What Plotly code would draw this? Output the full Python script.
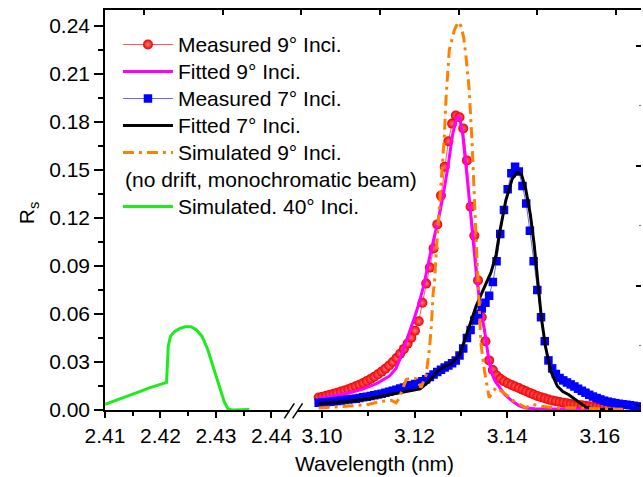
import plotly.graph_objects as go

# ---------------- data ----------------
meas_x = [3.0993, 3.1001, 3.1009, 3.1017, 3.1025, 3.1033, 3.1041, 3.1049, 3.1057, 3.1065,
          3.1073, 3.1081, 3.1089, 3.1097, 3.1105, 3.1113, 3.1121, 3.1129, 3.1137, 3.1145,
          3.1153, 3.1161, 3.1169, 3.1177, 3.1185, 3.1193, 3.1201, 3.1209, 3.1217, 3.1225,
          3.1233, 3.1241, 3.1249, 3.1257, 3.1265, 3.1273, 3.1281, 3.1289, 3.1297, 3.1305,
          3.1313, 3.1321, 3.1329, 3.1337, 3.1345, 3.1353, 3.1361, 3.1369, 3.1377, 3.1385,
          3.1393, 3.1401, 3.1409, 3.1417, 3.1425, 3.1433, 3.1441, 3.1449, 3.1457, 3.1465,
          3.1473, 3.1481, 3.1489, 3.1497, 3.1505, 3.1513, 3.1521, 3.1529, 3.1537, 3.1545,
          3.1553, 3.1561, 3.1569, 3.1577, 3.1585, 3.1593, 3.1601, 3.1609, 3.1617, 3.1625,
          3.1633, 3.1641, 3.1649, 3.1657, 3.1665, 3.1673, 3.1681, 3.1689]

meas9_y = [0.0078, 0.0083, 0.0089, 0.0095, 0.0101, 0.0108, 0.0115, 0.0122, 0.0130, 0.0139,
           0.0148, 0.0158, 0.0169, 0.0181, 0.0194, 0.0208, 0.0223, 0.0240, 0.0258, 0.0278,
           0.0300, 0.0325, 0.0352, 0.0382, 0.0415, 0.0452, 0.0495, 0.0555, 0.0670, 0.0790,
           0.0890, 0.1010, 0.1160, 0.1340, 0.1520, 0.1680, 0.1790, 0.1840, 0.1830, 0.1760,
           0.1560, 0.1270, 0.1090, 0.0810, 0.0580, 0.0430, 0.0310, 0.0250, 0.0215, 0.0195,
           0.0180, 0.0168, 0.0157, 0.0147, 0.0137, 0.0127, 0.0117, 0.0107, 0.0097, 0.0088,
           0.0080, 0.0073, 0.0066, 0.0060, 0.0055, 0.0050, 0.0046, 0.0042, 0.0038, 0.0035,
           0.0032, 0.0029, 0.0026, 0.0024, 0.0022, 0.0020, 0.0018, 0.0016, 0.0014, 0.0012,
           0.0010, 0.0008]

meas7_y = [0.0045, 0.0047, 0.0049, 0.0051, 0.0053, 0.0056, 0.0059, 0.0062, 0.0065, 0.0068,
           0.0071, 0.0075, 0.0079, 0.0083, 0.0087, 0.0092, 0.0097, 0.0102, 0.0108, 0.0114,
           0.0120, 0.0127, 0.0134, 0.0141, 0.0148, 0.0155, 0.0163, 0.0171, 0.0180, 0.0192,
           0.0206, 0.0222, 0.0238, 0.0252, 0.0265, 0.0278, 0.0292, 0.0310, 0.0340, 0.0385,
           0.0450, 0.0500, 0.0560, 0.0600, 0.0635, 0.0670, 0.0714, 0.0800, 0.0930, 0.1100,
           0.1250, 0.1380, 0.1480, 0.1520, 0.1490, 0.1400, 0.1290, 0.1120, 0.0930, 0.0750,
           0.0580, 0.0430, 0.0310, 0.0260, 0.0225, 0.0200, 0.0185, 0.0172, 0.0160, 0.0147,
           0.0133, 0.0120, 0.0108, 0.0095, 0.0084, 0.0075, 0.0066, 0.0058, 0.0052, 0.0047,
           0.0043, 0.0039, 0.0036, 0.0033, 0.0030, 0.0026, 0.0022, 0.0019]

fit9_x = [3.0993, 3.1030, 3.1060, 3.1090, 3.1120, 3.1146, 3.1160, 3.1170, 3.1180, 3.1190,
          3.1200, 3.1210, 3.1220, 3.1232, 3.1244, 3.1254, 3.1264, 3.1272, 3.1282, 3.1291,
          3.1297, 3.1304, 3.1315, 3.1325, 3.1334, 3.1342, 3.1351, 3.1358, 3.1365, 3.1374,
          3.1383, 3.1395, 3.1411, 3.1426, 3.1440, 3.1460, 3.1500, 3.1550, 3.1600, 3.1650]
fit9_y = [0.0072, 0.0090, 0.0108, 0.0132, 0.0168, 0.0213, 0.0260, 0.0330, 0.0410, 0.0495,
          0.0580, 0.0670, 0.0780, 0.0950, 0.1100, 0.1226, 0.1380, 0.1518, 0.1720, 0.1830,
          0.1830, 0.1720, 0.1410, 0.1100, 0.0830, 0.0640, 0.0500, 0.0360, 0.0244, 0.0180,
          0.0140, 0.0095, 0.0056, 0.0025, 0.0012, 0.0008, 0.0007, 0.0006, 0.0004, 0.0003]

fit7_x = [3.0993, 3.1050, 3.1100, 3.1132, 3.1180, 3.1212, 3.1230, 3.1248, 3.1265, 3.1280,
          3.1298, 3.1308, 3.1319, 3.1333, 3.1345, 3.1365, 3.1376, 3.1383, 3.1397, 3.1411,
          3.1422, 3.1431, 3.1440, 3.1450, 3.1458, 3.1466, 3.1474, 3.1483, 3.1494, 3.1508,
          3.1520, 3.1533, 3.1551, 3.1569, 3.1590, 3.1630]
fit7_y = [0.0040, 0.0052, 0.0070, 0.0088, 0.0115, 0.0132, 0.0175, 0.0240, 0.0272, 0.0290,
          0.0350, 0.0440, 0.0537, 0.0650, 0.0730, 0.0860, 0.0970, 0.1100, 0.1310, 0.1446,
          0.1485, 0.1470, 0.1380, 0.1220, 0.1040, 0.0800, 0.0570, 0.0390, 0.0244, 0.0150,
          0.0115, 0.0095, 0.0056, 0.0019, 0.0004, 0.0003]

sim9_x = [3.0993, 3.1030, 3.1060, 3.1100, 3.1130, 3.1150, 3.1160, 3.1166, 3.1175, 3.1182,
          3.1195, 3.1204, 3.1214, 3.1225, 3.1232, 3.1236, 3.1240, 3.1243, 3.1247, 3.1254,
          3.1261, 3.1264, 3.1268, 3.1275, 3.1286, 3.1294, 3.1300, 3.1306, 3.1311, 3.1318,
          3.1324, 3.1329, 3.1334, 3.1338, 3.1343, 3.1351, 3.1358, 3.1361, 3.1368, 3.1376,
          3.1386, 3.1397, 3.1412, 3.1426, 3.1440, 3.1455, 3.1470, 3.1500, 3.1550, 3.1600,
          3.1650]
sim9_y = [0.0012, 0.0018, 0.0025, 0.0035, 0.0055, 0.0060, 0.0045, 0.0070, 0.0140, 0.0190,
          0.0200, 0.0195, 0.0140, 0.0220, 0.0380, 0.0516, 0.0725, 0.0800, 0.0996, 0.1270,
          0.1560, 0.1700, 0.1950, 0.2250, 0.2375, 0.2425, 0.2400, 0.2330, 0.2210, 0.2000,
          0.1680, 0.1300, 0.0990, 0.0750, 0.0420, 0.0244, 0.0120, 0.0077, 0.0110, 0.0140,
          0.0120, 0.0098, 0.0060, 0.0036, 0.0015, 0.0036, 0.0025, 0.0015, 0.0012, 0.0008,
          0.0005]

sim40_x = [2.4100, 2.4120, 2.4140, 2.4160, 2.4180, 2.4200, 2.4211, 2.4214, 2.4218, 2.4225,
           2.4235, 2.4245, 2.4255, 2.4265, 2.4275, 2.4285, 2.4295, 2.4305, 2.4315, 2.4322,
           2.4330, 2.4345, 2.4360]
sim40_y = [0.0036, 0.0060, 0.0085, 0.0112, 0.0138, 0.0160, 0.0172, 0.0400, 0.0460, 0.0490,
           0.0510, 0.0520, 0.0520, 0.0500, 0.0460, 0.0380, 0.0270, 0.0150, 0.0050, 0.0005,
           0.0000, 0.0002, 0.0003]

names = ["Measured 9° Inci.", "Fitted 9° Inci.", "Measured 7° Inci.", "Fitted 7° Inci.",
         "Simulated 9° Inci.", "Simulated. 40° Inci."]
note_text = "(no drift, monochromatic beam)"

y_ticks = [0.00, 0.03, 0.06, 0.09, 0.12, 0.15, 0.18, 0.21, 0.24]

# ---------------- geometry helpers (pixel layout) ----------------
W, H = 643, 477
L, T = 105, 10
PW, PH = W - L, 400
B = H - T - PH


def px(xp):
    return (xp - L) / PW


def py(yp):
    return (T + PH - yp) / PH


FONT = "Arial, Liberation Sans, sans-serif"
FS = 21
ROW = 27  # legend row pitch in the reference


def lg(name):
    return "<span style='font-size:%dpx'>%s</span>" % (FS, name)


fig = go.Figure()

fig.add_trace(go.Scatter(
    x=meas_x[:len(meas9_y)], y=meas9_y, name=lg(names[0]), xaxis="x2", yaxis="y",
    mode="lines+markers", legendgroup="a",
    line=dict(color="#FF5A5A", width=1.0),
    marker=dict(symbol="circle", size=10, color="#F00000",
                gradient=dict(type="radial", color="#FF7878"),
                line=dict(width=0))))
fig.add_trace(go.Scatter(
    x=fit9_x, y=fit9_y, name=lg(names[1]), xaxis="x2", yaxis="y", mode="lines",
    legendgroup="a", line=dict(color="#FF00FF", width=3)))
fig.add_trace(go.Scatter(
    x=meas_x, y=meas7_y, name=lg(names[2]), xaxis="x2", yaxis="y",
    mode="lines+markers", legendgroup="a",
    line=dict(color="#4040FF", width=0.8),
    marker=dict(symbol="square", size=8.5, color="#0000FF", line=dict(width=0))))
fig.add_trace(go.Scatter(
    x=fit7_x, y=fit7_y, name=lg(names[3]), xaxis="x2", yaxis="y", mode="lines",
    legendgroup="a", line=dict(color="#000000", width=3)))
fig.add_trace(go.Scatter(
    x=sim9_x, y=sim9_y, name=lg(names[4]), xaxis="x2", yaxis="y", mode="lines",
    legendgroup="a", line=dict(color="#FF8000", width=3, dash="11px,5px,3px,5px")))
fig.add_trace(go.Scatter(
    x=sim40_x, y=sim40_y, name=lg(names[5]), xaxis="x", yaxis="y", mode="lines",
    legendgroup="b", line=dict(color="#1EEB1E", width=3)))

# invisible helpers so the frame axes are drawn
fig.add_trace(go.Scatter(x=[None], y=[None], xaxis="x3", yaxis="y", showlegend=False,
                         hoverinfo="skip"))
fig.add_trace(go.Scatter(x=[None], y=[None], xaxis="x2", yaxis="y2", showlegend=False,
                         hoverinfo="skip"))

axis_common = dict(showgrid=False, zeroline=False, showline=True, linecolor="black",
                   linewidth=1.5, tickcolor="black", tickwidth=1.5,
                   tickfont=dict(family=FONT, size=FS, color="black"))

fig.update_layout(
    width=W, height=H,
    margin=dict(l=L, r=0, t=T, b=B, pad=0),
    paper_bgcolor="white", plot_bgcolor="rgba(0,0,0,0)",
    font=dict(family=FONT, size=FS, color="black"),
    xaxis=dict(domain=[0, px(291)], range=[2.41, 2.4434], anchor="y",
               tickmode="linear", tick0=2.41, dtick=0.01, tickformat=".2f",
               ticks="outside", ticklen=6,
               minor=dict(dtick=0.005, tick0=2.41, ticks="outside", ticklen=4,
                          tickcolor="black", tickwidth=1.5),
               **axis_common),
    xaxis2=dict(domain=[px(299), 1], range=[3.0949, 3.16888], anchor="y",
                tickmode="linear", tick0=3.10, dtick=0.02, tickformat=".2f",
                ticks="outside", ticklen=6,
                minor=dict(dtick=0.01, tick0=3.10, ticks="outside", ticklen=4,
                           tickcolor="black", tickwidth=1.5),
                **axis_common),
    xaxis3=dict(domain=[0, 1], range=[L, W], anchor="y", side="top",
                showgrid=False, zeroline=False, showline=True, linecolor="black",
                linewidth=1.5, ticks="inside", ticklen=5, tickcolor="black",
                tickwidth=1.5, tickvals=[144, 223, 302, 381, 460, 539, 618],
                showticklabels=False),
    yaxis=dict(domain=[0, 1], range=[0, 0.25], anchor="x",
               tickmode="array", tickvals=y_ticks, tickformat=".2f",
               ticks="outside", ticklen=9,
               minor=dict(dtick=0.015, tick0=0, ticks="outside", ticklen=5,
                          tickcolor="black", tickwidth=1.5),
               **axis_common),
    yaxis2=dict(overlaying="y", side="right", anchor="x2", range=[0, PH],
                showgrid=False, zeroline=False, showline=False,
                ticks="inside", ticklen=5, tickcolor="black", tickwidth=1.5,
                tickvals=[364.3, 244.3, 124.3, 4.3], showticklabels=False,
                minor=dict(tickvals=[305, 185, 65], ticks="inside", ticklen=2,
                           tickcolor="#777777", tickwidth=1)),
    legend=dict(x=px(118), y=py(26), xanchor="left", yanchor="top",
                bgcolor="rgba(0,0,0,0)", borderwidth=0,
                font=dict(family=FONT, size=(ROW - 3) / 1.3, color="black"),
                itemwidth=50, tracegroupgap=ROW, traceorder="grouped"),
    showlegend=True,
)

annotations = [
    dict(text="Wavelength (nm)", x=px(376), y=py(463), xref="paper", yref="paper",
         showarrow=False, xanchor="center", yanchor="middle",
         font=dict(family=FONT, size=FS, color="black")),
    dict(text="R<sub>s</sub>", x=px(28), y=py(213), xref="paper", yref="paper",
         showarrow=False, xanchor="center", yanchor="middle", textangle=-90,
         font=dict(family=FONT, size=FS, color="black")),
    dict(text=note_text, x=px(123), y=py(179), xref="paper", yref="paper",
         showarrow=False, xanchor="left", yanchor="middle",
         font=dict(family=FONT, size=FS, color="black")),
]
fig.update_layout(annotations=annotations)

# axis-break marks
shapes = []
for x0 in (285, 293.3):
    shapes.append(dict(type="line", xref="paper", yref="paper",
                       x0=px(x0), y0=py(418.3), x1=px(x0 + 10), y1=py(403.3),
                       line=dict(color="black", width=1.5)))
fig.update_layout(shapes=shapes)

fig.write_html("out.html")
